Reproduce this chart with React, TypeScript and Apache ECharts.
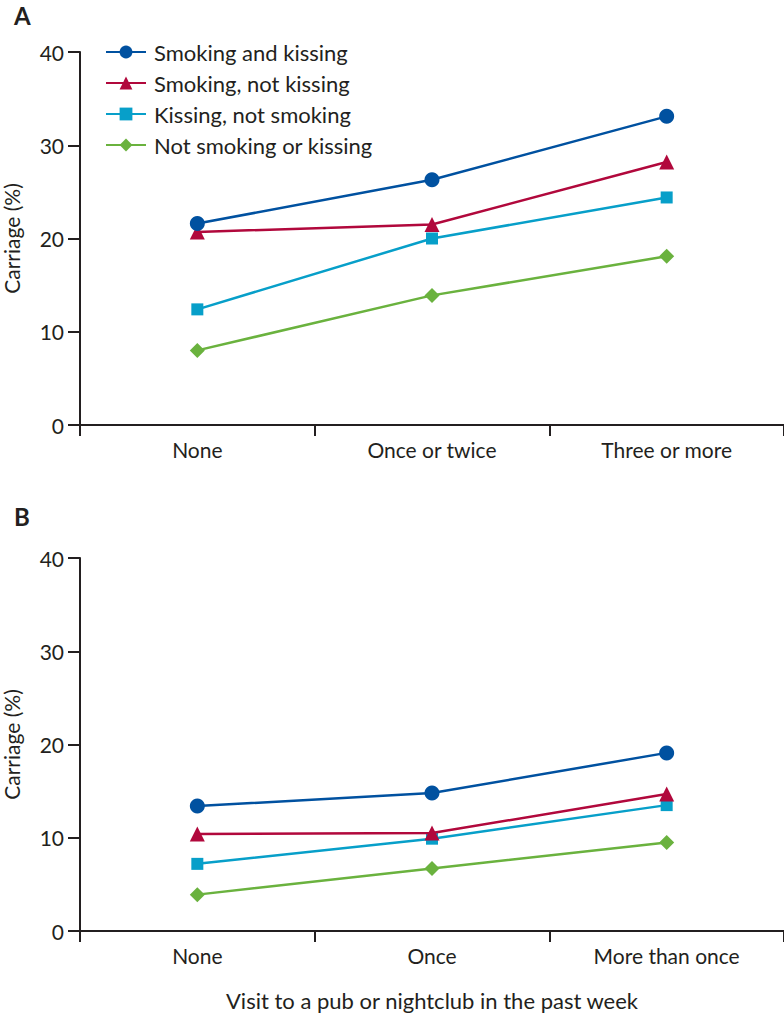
import React, { useEffect, useRef } from "react";
import * as echarts from "echarts";

const categoriesA = ["None", "Once or twice", "Three or more"];
const categoriesB = ["None", "Once", "More than once"];
const seriesNames = [
  "Smoking and kissing",
  "Smoking, not kissing",
  "Kissing, not smoking",
  "Not smoking or kissing",
];
const colors = ["#0051a0", "#b1083c", "#079fc9", "#6ab23e"];
const symbols = ["circle", "triangle", "rect", "diamond"];
const symbolSizes = [15, 15, 12, 15];

const valuesA = [
  [21.6, 26.3, 33.1],
  [20.7, 21.5, 28.2],
  [12.4, 20.0, 24.4],
  [8.0, 13.9, 18.1],
];
const valuesB = [
  [13.4, 14.8, 19.1],
  [10.4, 10.5, 14.7],
  [7.2, 9.9, 13.5],
  [3.9, 6.7, 9.5],
];
const yTicks = { min: 0, max: 40, interval: 10 };

const FONT = "Lato";
const INK = "#231f20";

export default function App() {
  const ref = useRef<HTMLDivElement>(null);
  useEffect(() => {
    if (!ref.current) return;
    const chart = echarts.init(ref.current, null, { renderer: "svg" });
    const xAxisBase = (cats: string[], gridIndex: number) => ({
      type: "category",
      gridIndex,
      data: cats,
      boundaryGap: true,
      axisLine: { lineStyle: { color: INK, width: 2 } },
      axisTick: { show: true, length: 11, lineStyle: { color: INK, width: 2 } },
      axisLabel: { color: INK, fontFamily: FONT, fontSize: 21, margin: 14, interval: 0 },
    });
    const yAxisBase = (gridIndex: number) => ({
      type: "value",
      gridIndex,
      min: yTicks.min,
      max: yTicks.max,
      interval: yTicks.interval,
      name: "Carriage (%)",
      nameLocation: "middle",
      nameRotate: 90,
      nameGap: 58,
      nameTextStyle: { color: INK, fontFamily: FONT, fontSize: 21 },
      splitLine: { show: false },
      axisLine: { show: true, lineStyle: { color: INK, width: 2 } },
      axisTick: { show: true, length: 12, lineStyle: { color: INK, width: 2 } },
      axisLabel: { color: INK, fontFamily: FONT, fontSize: 21, margin: 16 },
    });
    const mkSeries = (vals: number[][], idx: number) =>
      vals.map((v, i) => ({
        name: seriesNames[i],
        type: "line",
        xAxisIndex: idx,
        yAxisIndex: idx,
        data: v,
        symbol: symbols[i],
        symbolSize: symbolSizes[i],
        color: colors[i],
        lineStyle: { color: colors[i], width: 2.5 },
        itemStyle: { color: colors[i] },
        z: 10 - i,
      }));
    chart.setOption({
      animation: false,
      backgroundColor: "#ffffff",
      textStyle: { fontFamily: FONT },
      grid: [
        { left: 80, right: 0, top: 52, height: 373, outerBoundsMode: "none", containLabel: false },
        { left: 80, right: 0, top: 558, height: 373, outerBoundsMode: "none", containLabel: false },
      ],
      xAxis: [xAxisBase(categoriesA, 0), xAxisBase(categoriesB, 1)],
      yAxis: [yAxisBase(0), yAxisBase(1)],
      legend: {
        data: seriesNames,
        orient: "vertical",
        left: 105,
        top: 41,
        padding: 0,
        itemWidth: 40,
        itemHeight: 16,
        itemGap: 9,
        textStyle: { color: INK, fontFamily: FONT, fontSize: 22, padding: [0, 0, 0, 3] },
      },
      graphic: [
        { type: "text", left: 14, top: 3, style: { text: "A", fontFamily: FONT, fontSize: 24, fontWeight: "bold", fill: INK } },
        { type: "text", left: 14, top: 504, style: { text: "B", fontFamily: FONT, fontSize: 24, fontWeight: "bold", fill: INK } },
        {
          type: "text",
          x: 432,
          y: 1000,
          style: {
            text: "Visit to a pub or nightclub in the past week",
            fontFamily: FONT,
            fontSize: 22,
            fill: INK,
            align: "center",
            verticalAlign: "middle",
          },
        },
      ],
      series: [...mkSeries(valuesA, 0), ...mkSeries(valuesB, 1)],
    });
    return () => chart.dispose();
  }, []);
  return (
    <div
      ref={ref}
      style={{ position: "absolute", left: 0, top: 0, width: 784, height: 1016, background: "#fff" }}
    />
  );
}
